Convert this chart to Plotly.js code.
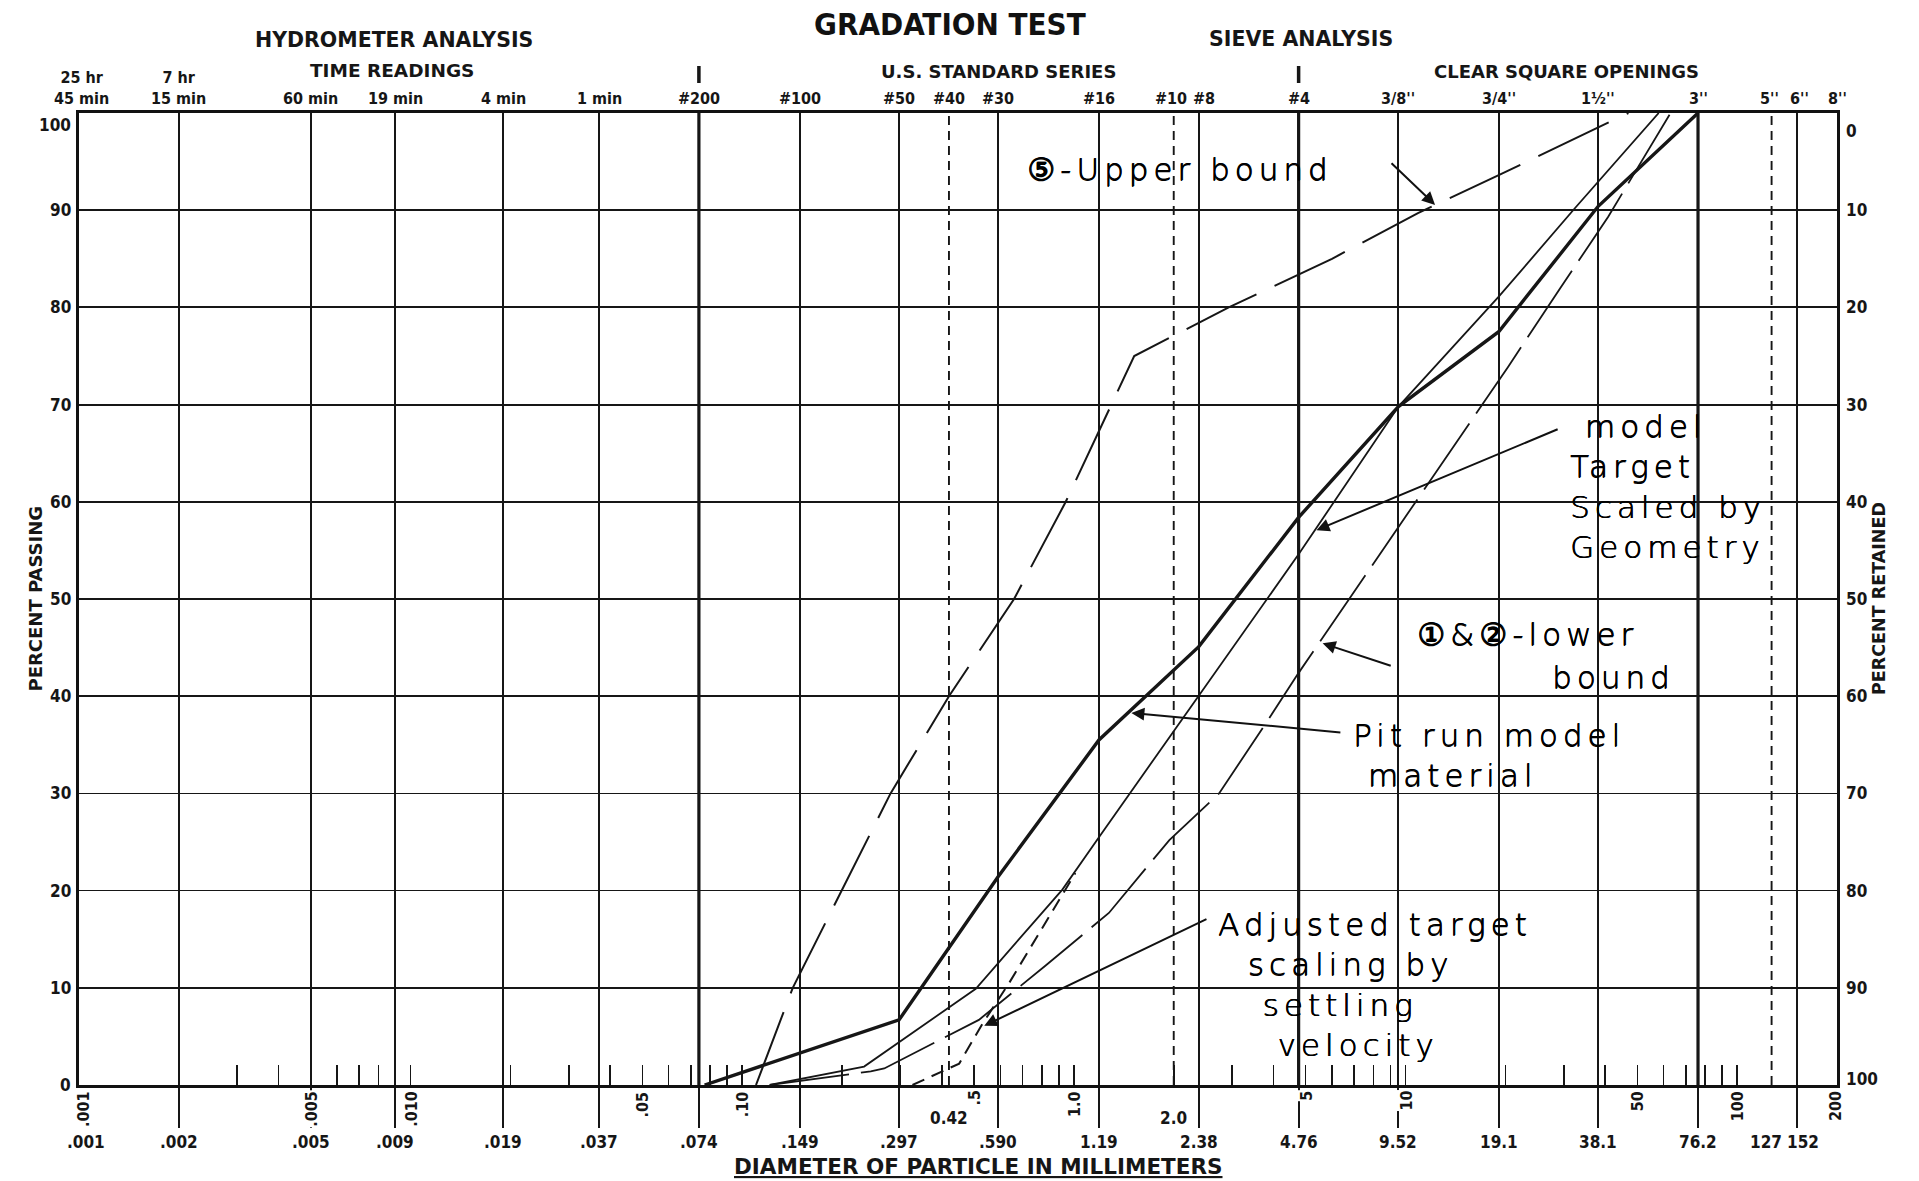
<!DOCTYPE html>
<html><head><meta charset="utf-8">
<script src="https://cdn.plot.ly/plotly-3.0.1.min.js"></script>
<style>html,body{margin:0;padding:0;background:#fff}#chart{width:1919px;height:1181px}</style>
</head><body><div id="chart"></div>
<script>
// ---------------- data ----------------
// particle diameter (mm) / percent passing
const pitRunMM = [0.077, 0.297, 0.59, 1.19, 2.38, 4.76, 9.52, 19.1, 38.1, 76.2];
const pitRunPct = [0, 6.7, 21.4, 35.5, 45.1, 58.4, 69.8, 77.5, 90.4, 100];

const modelTargetMM = [0.121, 0.233, 0.506, 0.923, 1.19, 2.38, 4.76, 9.52, 19.1, 32.4, 58];
const modelTargetPct = [0, 1.9, 9.9, 20.1, 25.5, 40.0, 54.6, 69.8, 81.1, 90.2, 100];

const lowerBoundMM = [0.121, 0.244, 0.268, 0.517, 0.822, 1.275, 1.94, 2.74, 3.79, 4.76, 6.73, 9.52, 20.4, 29.3, 40.8, 63];
const lowerBoundPct = [0, 1.4, 1.7, 6.7, 12.3, 17.7, 25.2, 30.0, 37.2, 42.4, 49.9, 57.4, 73.9, 82.0, 89.3, 100];

const upperBoundMM = [0.11, 0.142, 0.28, 0.42, 0.66, 0.945, 1.52, 2.93, 6.0, 10.9, 19.1, 47];
const upperBoundPct = [0, 10, 30, 40, 50, 60, 75, 80, 85, 89.7, 93.6, 100];

const adjustedMM = [0.326, 0.451, 0.53, 0.638, 1.01];
const adjustedPct = [0, 2.2, 6.3, 10.5, 21.8];

// axis grid / tick values
const gridMM = [0.002, 0.005, 0.009, 0.019, 0.037, 0.074, 0.149, 0.297, 0.59, 1.19, 2.38, 4.76, 9.52, 19.1, 38.1, 76.2, 152];
const heavyGridMM = [0.074, 4.76, 76.2];
const dashedGridMM = [0.42, 2.0, 127];
const minorTickMM = [0.003,0.004,0.006,0.007,0.008,0.01,0.02,0.03,0.04,0.05,0.06,0.07,0.08,0.09,
  0.1,0.2,0.3,0.4,0.5,0.6,0.7,0.8,0.9,1,2,3,4,5,6,7,8,9,10,20,30,40,50,60,70,80,90,100];
const pctTicks = [0, 10, 20, 30, 40, 50, 60, 70, 80, 90, 100];

const topTickMM = [0.001, 0.002, 0.005, 0.009, 0.019, 0.037, 0.074, 0.149, 0.297, 0.42, 0.59, 1.19, 2.0, 2.38, 4.76, 9.52, 19.1, 38.1, 76.2, 127, 152, 200];
const topTickText = ['25 hr<br>45 min', '7 hr<br>15 min', '60 min', '19 min', '4 min', '1 min', '#200', '#100', '#50', '#40', '#30', '#16', '#10', '#8', '#4', "3/8''", "3/4''", "1½''", "3''", "5''", "6''", "8''"];

const sizeLabelMM = [0.001, 0.002, 0.005, 0.009, 0.019, 0.037, 0.074, 0.149, 0.297, 0.59, 1.19, 2.38, 4.76, 9.52, 19.1, 38.1, 76.2, 127, 152];
const sizeLabelText = ['.001', '.002', '.005', '.009', '.019', '.037', '.074', '.149', '.297', '.590', '1.19', '2.38', '4.76', '9.52', '19.1', '38.1', '76.2', '127', '152'];
const rotLabelMM = [0.001, 0.005, 0.010, 0.05, 0.10, 0.5, 1.0, 5, 10, 50, 100, 200];
const rotLabelText = ['.001', '.005', '.010', '.05', '.10', '.5', '1.0', '5', '10', '50', '100', '200'];
const extraLabelMM = [0.42, 2.0];
const extraLabelText = ['0.42', '2.0'];
const sectionBarMM = [0.074, 4.76];

// handwritten notes: text, anchor (mm, %)
const NB = '\u00A0';
const noteText = ['⑤-Upper bound', NB + 'model<br>Target<br>Scaled by<br>Geometry', '①&②-lower', 'bound',
  'Pit run model<br>' + NB + 'material',
  'Adjusted target<br>' + NB.repeat(2) + 'scaling by<br>' + NB.repeat(3) + 'settling<br>' + NB.repeat(4) + 'velocity'];
const noteMM = [0.711, 30.8, 10.7, 27.3, 6.86, 2.69];
const notePct = [94.2, 61.6, 46.4, 42.0, 33.9, 10.3];
// arrow tips on the curves (mm, %) and pixel offsets of the tails
const arrowMM = [12.4, 5.32, 5.55, 1.47, 0.53];
const arrowPct = [90.4, 57.0, 45.5, 38.3, 6.0];
const arrowAX = [-48, 246, 73, 214, 227];
const arrowAY = [-46, -103, 24, 20, -109];

// ---------------- styling ----------------
const ink = '#161616';
const narrow = '"Liberation Sans Narrow", "DejaVu Sans Condensed", "Arial Narrow", sans-serif';
const wide = '"DejaVu Sans", "Liberation Sans", sans-serif';
const hand = '"DejaVu Sans", sans-serif';
const L = Math.log10;

function curve(xs, ys, width, dash) {
  return {type: 'scatter', mode: 'lines', x: xs, y: ys, hoverinfo: 'skip', showlegend: false,
    line: {color: ink, width: width, dash: dash}};
}

const traces = [];
dashedGridMM.forEach(v => traces.push(curve([v, v], [0, 100], 1.9, '9px,6px')));
heavyGridMM.forEach(v => traces.push(curve([v, v], [0, 100], 3.2, 'solid')));
traces.push(curve(upperBoundMM, upperBoundPct, 2, '78px,20px'));
traces.push(curve(lowerBoundMM, lowerBoundPct, 1.8, '80px,12px'));
traces.push(curve(modelTargetMM, modelTargetPct, 1.8, 'solid'));
traces.push(curve(adjustedMM, adjustedPct, 2, '13px,8px'));
traces.push(curve(pitRunMM, pitRunPct, 3.4, 'solid'));

const ann = [];
const tfont = (size, fam, weight) => ({family: fam, size: size, color: ink, weight: weight || 'bold'});
const topShift = {'#10': -3, '#8': 5, '5\'\'': -2, '6\'\'': 2};
const botShift = {'.001': 7, '127': -6, '152': 6};

// top scale labels
topTickMM.forEach((v, i) => ann.push({xref: 'x', yref: 'paper', x: L(v), y: 1, xanchor: 'center', yanchor: 'bottom',
  yshift: 3, xshift: i === 0 ? 2 : (topShift[topTickText[i]] || 0), text: topTickText[i], showarrow: false, font: tfont(16, narrow)}));
// section separator bars
sectionBarMM.forEach(v => ann.push({xref: 'x', yref: 'paper', x: L(v), y: 1, yshift: 30, text: ' ',
  showarrow: true, arrowhead: 0, arrowwidth: 3.5, arrowcolor: ink, ax: 0, ay: -27, standoff: 0, startstandoff: 0}));
// bottom size labels
sizeLabelMM.forEach((v, i) => ann.push({xref: 'x', yref: 'paper', x: L(v), y: 0, yanchor: 'middle', yshift: -57,
  xshift: botShift[sizeLabelText[i]] || 0, text: sizeLabelText[i], showarrow: false, font: tfont(17, narrow)}));
rotLabelMM.forEach((v, i) => ann.push({xref: 'x', yref: 'paper', x: L(v), y: 0, yanchor: 'top', yshift: -5,
  xshift: i === 0 ? 4 : (i === rotLabelMM.length - 1 ? -2 : 0), textangle: -90, text: rotLabelText[i],
  showarrow: false, bgcolor: 'white', borderpad: 0, font: tfont(16, narrow)}));
extraLabelMM.forEach((v, i) => ann.push({xref: 'x', yref: 'paper', x: L(v), y: 0, yanchor: 'middle', yshift: -33,
  text: extraLabelText[i], showarrow: false, bgcolor: 'white', borderpad: 0, font: tfont(17, narrow)}));
// left and right percent labels
pctTicks.forEach(p => {
  ann.push({xref: 'paper', yref: 'y', x: 0, y: p, xanchor: 'right', xshift: -6,
    yanchor: p === 100 ? 'top' : 'middle', text: String(p), showarrow: false, font: tfont(17, narrow)});
  ann.push({xref: 'paper', yref: 'y', x: 1, y: p, xanchor: 'left', xshift: 7,
    yanchor: p === 100 ? 'top' : 'middle', yshift: p === 100 ? -6 : (p === 0 ? 6 : 0),
    text: String(100 - p), showarrow: false, font: tfont(17, narrow)});
});
// section headings
const heads = [
  ['HYDROMETER ANALYSIS', 0.1792, 1.0751, 20.5], ['TIME READINGS', 0.178, 1.0442, 18.5],
  ['U.S. STANDARD SERIES', 0.5228, 1.0432, 18], ['SIEVE ANALYSIS', 0.6951, 1.0761, 20.5],
  ['CLEAR SQUARE OPENINGS', 0.8464, 1.0432, 18]];
heads.forEach(h => ann.push({xref: 'paper', yref: 'paper', x: h[1], y: h[2], xanchor: 'center', yanchor: 'middle',
  text: h[0], showarrow: false, font: tfont(h[3], wide)}));
// axis titles
ann.push({xref: 'paper', yref: 'paper', x: 0.5114, y: 0, yshift: -81, yanchor: 'middle', showarrow: false,
  text: '<u>DIAMETER OF PARTICLE IN MILLIMETERS</u>', font: tfont(21.5, wide)});
ann.push({xref: 'paper', yref: 'paper', x: 0, y: 0.5, xshift: -57, textangle: -90, showarrow: false,
  text: 'PERCENT PASSING', font: tfont(18, wide)});
ann.push({xref: 'paper', yref: 'paper', x: 1, y: 0.5, xshift: 54, textangle: -90, showarrow: false,
  text: 'PERCENT RETAINED', font: tfont(17.5, wide)});
// handwritten notes
noteText.forEach((t, i) => ann.push({xref: 'x', yref: 'y', x: L(noteMM[i]), y: notePct[i], xanchor: 'left', yanchor: 'middle',
  align: 'left', text: '<span style="letter-spacing:5px">' + t + '</span>', showarrow: false,
  font: {family: hand, size: 31, color: '#000000', weight: 200, shadow: '0.6px 0 0 #000, 0 0.5px 0 #000'}}));
arrowMM.forEach((v, i) => ann.push({xref: 'x', yref: 'y', x: L(v), y: arrowPct[i], text: ' ', showarrow: true,
  arrowhead: 2, arrowsize: 1.3, arrowwidth: 2, arrowcolor: '#111', ax: arrowAX[i], ay: arrowAY[i], standoff: 2}));

const layout = {
  width: 1919, height: 1181,
  margin: {l: 79, r: 82, t: 113, b: 96, pad: 0},
  paper_bgcolor: '#ffffff', plot_bgcolor: '#ffffff',
  showlegend: false,
  title: {text: 'GRADATION TEST', x: 0.495, xanchor: 'center', y: 0.9797, yanchor: 'middle',
    font: {family: narrow, size: 31, color: '#111', weight: 'bold'}},
  xaxis: {type: 'log', range: [L(0.001), L(200)], fixedrange: true,
    tickmode: 'array', tickvals: gridMM, showticklabels: false,
    ticks: 'outside', ticklen: 40, tickwidth: 2, tickcolor: ink,
    showgrid: true, gridcolor: ink, gridwidth: 2, zeroline: false,
    showline: true, linecolor: '#111', linewidth: 3, mirror: true,
    minor: {tickmode: 'array', tickvals: minorTickMM, ticks: 'inside', ticklen: 20, tickwidth: 1.6, tickcolor: ink, showgrid: false}},
  yaxis: {range: [0, 100], fixedrange: true, tickmode: 'array', tickvals: pctTicks, showticklabels: false, ticks: '',
    showgrid: true, gridcolor: ink, gridwidth: 1.8, zeroline: false,
    showline: true, linecolor: '#111', linewidth: 3, mirror: true},
  annotations: ann
};

Plotly.newPlot('chart', traces, layout, {displayModeBar: false, staticPlot: true});
</script></body></html>
